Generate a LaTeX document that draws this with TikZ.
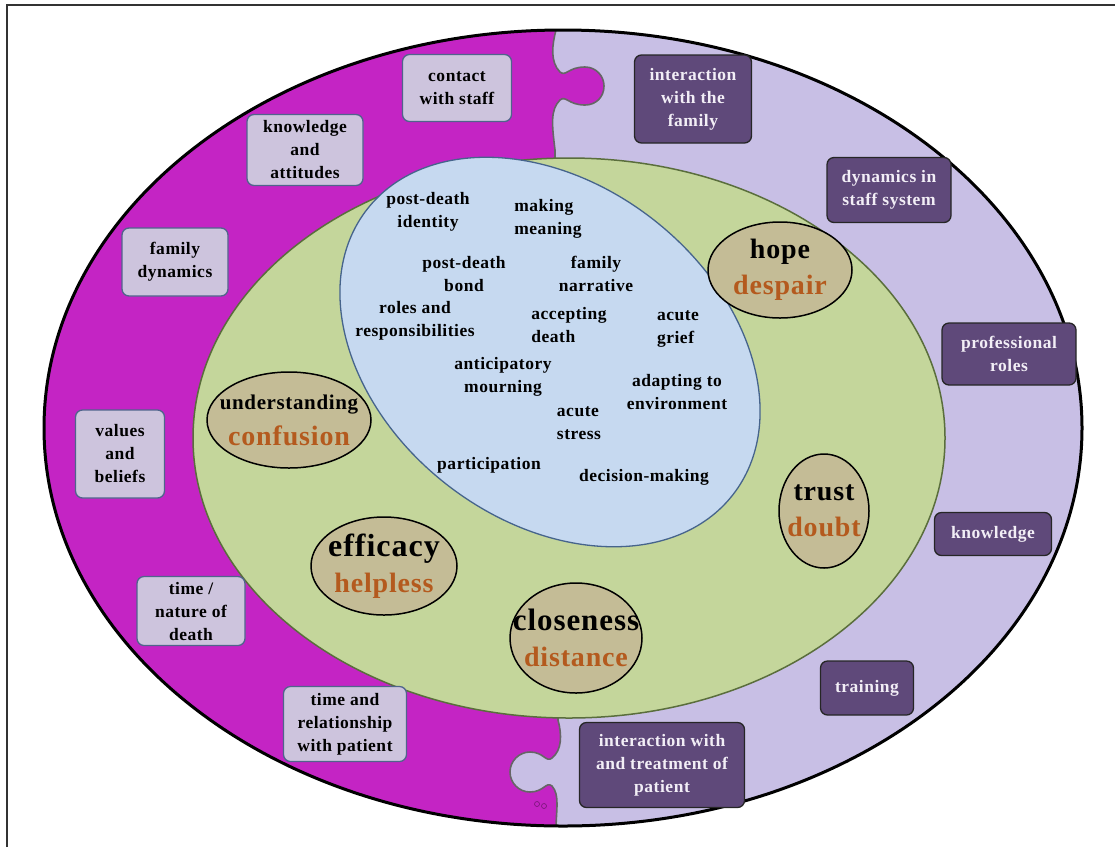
\documentclass[tikz,border=0pt]{standalone}
\usepackage{fontspec}
\setmainfont{Liberation Serif}[LetterSpace=3]
\usetikzlibrary{shapes.geometric}

\definecolor{ringmagenta}{RGB}{196,36,196}
\definecolor{ringlavender}{RGB}{200,191,229}
\definecolor{coregreen}{RGB}{196,214,155}
\definecolor{coreedge}{RGB}{90,110,60}
\definecolor{innerblue}{RGB}{198,217,240}
\definecolor{inneredge}{RGB}{70,100,140}
\definecolor{pairtan}{RGB}{196,188,150}
\definecolor{boxlight}{RGB}{205,196,221}
\definecolor{boxedge}{RGB}{80,100,140}
\definecolor{boxdark}{RGB}{95,73,122}
\definecolor{boxtext}{RGB}{242,238,246}
\definecolor{wordbrown}{RGB}{180,90,30}

\tikzset{
  lightbox/.style={draw=boxedge, line width=1.3pt, fill=boxlight, rounded corners=7pt,
    align=center, inner sep=0pt, font=\fontsize{17.5}{23}\selectfont\bfseries},
  darkbox/.style={draw=black!85, line width=1.3pt, fill=boxdark, rounded corners=7pt,
    align=center, inner sep=0pt, text=boxtext, font=\fontsize{17.5}{23}\selectfont\bfseries},
  coreword/.style={align=center, inner sep=0pt, font=\fontsize{17.5}{23}\selectfont\bfseries},
  pairoval/.style={ellipse, draw=black, line width=1.5pt, fill=pairtan, inner sep=0pt},
  pairword/.style={align=center, inner sep=0pt, font=\fontsize{28}{36}\selectfont\bfseries}
}

\newcommand{\puzzleline}{(556,0) -- (556,30)
  .. controls (552,45) and (550,62) .. (560,72)
  .. controls (566,77) and (568,67) .. (585,67)
  .. controls (596,67) and (604,76) .. (604,86)
  .. controls (604,97) and (596,105) .. (585,105)
  .. controls (568,105) and (566,95) .. (560,100)
  .. controls (550,110) and (552,125) .. (555,150)
  -- (558,720)
  .. controls (562,735) and (562,750) .. (552,758)
  .. controls (546,763) and (544,752) .. (530,752)
  .. controls (519,752) and (510,761) .. (510,772)
  .. controls (510,783) and (519,792) .. (530,792)
  .. controls (544,792) and (546,781) .. (552,786)
  .. controls (560,795) and (556,810) .. (556,830) -- (556,847)}

\begin{document}
\begin{tikzpicture}[x=1pt, y=-1pt]
  \useasboundingbox (0,0) rectangle (1115,847);

  % outer ring, two halves
  \fill[ringlavender] (563,428) ellipse [x radius=519, y radius=398];
  \begin{scope}
    \clip (563,428) ellipse [x radius=519, y radius=398];
    \fill[ringmagenta] \puzzleline -- (0,847) -- (0,0) -- cycle;
    \draw[black!60, line width=1.6pt] \puzzleline;
  \end{scope}
  \draw[ringmagenta!60!black, line width=0.6pt] (537,804) circle [radius=2.5] (544,806) circle [radius=2.5];
  \draw[black, line width=3pt] (563,428) ellipse [x radius=519, y radius=398];

  % middle and inner ellipses
  \draw[coreedge, line width=1.5pt, fill=coregreen] (569,438) ellipse [x radius=376, y radius=280];
  \draw[inneredge, line width=1.3pt, fill=innerblue, rotate around={-38:(550,352)}]
    (550,352) ellipse [x radius=232, y radius=168];

  % words in the inner ellipse
  \node[coreword] (identity) at (428,212) {post-death\\identity};
  \node[coreword, align=left] (meaning) at (548,219) {making\\meaning};
  \node[coreword] (bond) at (464,274) {post-death\\bond};
  \node[coreword] (narrative) at (596,274) {family\\narrative};
  \node[coreword] (roles) at (415,321) {roles and\\responsibilities};
  \node[coreword, align=left] (accepting) at (569,325) {accepting\\death};
  \node[coreword, align=left] (grief) at (678,329) {acute\\grief};
  \node[coreword] (mourning) at (503,377) {anticipatory\\mourning};
  \node[coreword] (adapting) at (677,392) {adapting to\\environment};
  \node[coreword, align=left] (stress) at (579,423) {acute\\stress};
  \node[coreword] (participation) at (489,465) {participation};
  \node[coreword] (decision) at (644,477) {decision-making};

  % paired states
  \node[pairoval, minimum width=144, minimum height=96] (hope) at (780,270) {};
  \node[pairword] (hopeword) at (hope) {hope\\\textcolor{wordbrown}{despair}};
  \node[pairoval, minimum width=164, minimum height=96] (understanding) at (289,420) {};
  \node[pairword] (understandingword) at (understanding)
    {{\fontsize{21}{30}\selectfont understanding}\\\textcolor{wordbrown}{confusion}};
  \node[pairoval, minimum width=90, minimum height=114] (trust) at (824,511) {};
  \node[pairword] (trustword) at (trust) {trust\\\textcolor{wordbrown}{doubt}};
  \node[pairoval, minimum width=146, minimum height=98] (efficacy) at (384,566) {};
  \node[pairword] (efficacyword) at (efficacy)
    {{\fontsize{32}{36}\selectfont efficacy}\\\textcolor{wordbrown}{helpless}};
  \node[pairoval, minimum width=132, minimum height=110] (closeness) at (576,638) {};
  \node[pairword] (closenessword) at (closeness)
    {{\fontsize{31}{36}\selectfont closeness}\\\textcolor{wordbrown}{distance}};

  % family side
  \node[lightbox, minimum width=109, minimum height=67] (contact) at (457,88) {contact\\with staff};
  \node[lightbox, minimum width=116, minimum height=71] (attitudes) at (305,150) {knowledge\\and\\attitudes};
  \node[lightbox, minimum width=106, minimum height=68] (dynamics) at (175,262) {family\\dynamics};
  \node[lightbox, minimum width=89, minimum height=88] (values) at (120,454) {values\\and\\beliefs};
  \node[lightbox, minimum width=108, minimum height=69] (nature) at (191,611) {time /\\nature of\\death};
  \node[lightbox, minimum width=123, minimum height=75] (relationship) at (345,724) {time and\\relationship\\with patient};

  % staff side
  \node[darkbox, minimum width=117, minimum height=88] (family) at (693,99) {interaction\\with the\\family};
  \node[darkbox, minimum width=124, minimum height=65] (staffsystem) at (889,190) {dynamics in\\staff system};
  \node[darkbox, minimum width=134, minimum height=62] (professional) at (1009,354) {professional\\roles};
  \node[darkbox, minimum width=117, minimum height=43] (knowledge) at (993,534) {knowledge};
  \node[darkbox, minimum width=93, minimum height=54] (training) at (867,688) {training};
  \node[darkbox, minimum width=165, minimum height=85] (patient) at (662,765) {interaction with\\and treatment of\\patient};

  % frame
  \draw[black!80, line width=1.5pt] (7,847) -- (7,5) -- (1115,5);
\end{tikzpicture}
\end{document}
